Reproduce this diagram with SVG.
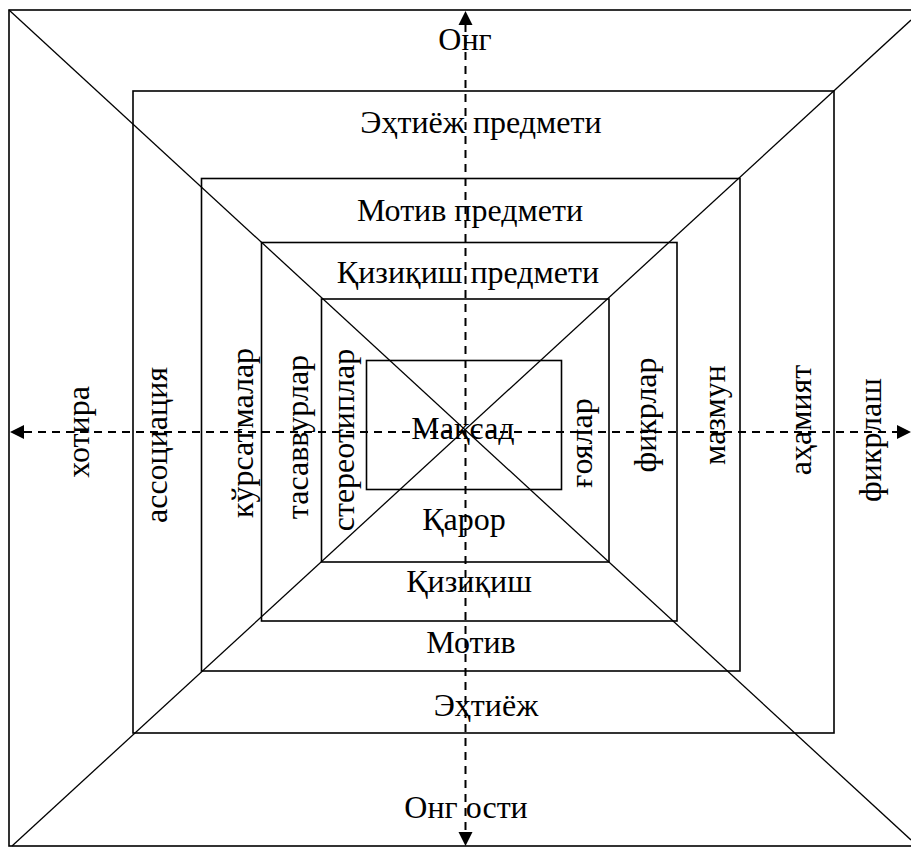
<svg xmlns="http://www.w3.org/2000/svg" width="911" height="848" viewBox="0 0 911 848">
<defs>
<style>
.r{fill:none;stroke:#000;stroke-width:1.6}
.d{stroke:#000;stroke-width:1.3}
.ax{stroke:#000;stroke-width:2;stroke-dasharray:8 6}
text{font-family:"Liberation Serif","Times New Roman",serif;font-size:32px;fill:#000;text-anchor:middle}
</style>
</defs>
<rect width="911" height="848" fill="#fff"/>
<g id="rects">
<rect id="r1" class="r" x="9" y="10" width="910" height="836"/>
<rect id="r2" class="r" x="133" y="91" width="701" height="642"/>
<rect id="r3" class="r" x="201.5" y="178.5" width="538.5" height="492.5"/>
<rect id="r4" class="r" x="261.5" y="242.5" width="415.5" height="378.5"/>
<rect id="r5" class="r" x="321.5" y="299" width="287.5" height="263"/>
<rect id="r6" class="r" x="366.5" y="360.5" width="195" height="129"/>
</g>
<g id="connectors">
<line class="d" x1="9" y1="10" x2="911" y2="840"/>
<line class="d" x1="12" y1="846" x2="911" y2="20"/>
<line class="ax" x1="465.5" y1="24" x2="465.5" y2="833"/>
<polygon points="465.5,11 458.5,25 472.5,25"/>
<polygon points="465.5,846 458.5,832 472.5,832"/>
<line class="ax" x1="24" y1="432" x2="898" y2="432"/>
<polygon points="10,432 24,425 24,439"/>
<polygon points="911,432 897,425 897,439"/>
</g>
<g id="labels">
<text x="465" y="50">Онг</text>
<text x="466" y="818">Онг ости</text>
<text x="481" y="133">Эҳтиёж предмети</text>
<text x="470" y="221">Мотив предмети</text>
<text x="468" y="283">Қизиқиш предмети</text>
<text x="463" y="439">Мақсад</text>
<text x="464" y="530">Қарор</text>
<text x="469" y="592">Қизиқиш</text>
<text x="471" y="653">Мотив</text>
<text x="486" y="716">Эҳтиёж</text>
<text transform="translate(89,432) rotate(-90)">хотира</text>
<text transform="translate(167,445) rotate(-90)">ассоциация</text>
<text transform="translate(253,433) rotate(-90)">кўрсатмалар</text>
<text transform="translate(308,437) rotate(-90)">тасаввурлар</text>
<text transform="translate(354,440) rotate(-90)">стереотиплар</text>
<text transform="translate(592,443) rotate(-90)">ғоялар</text>
<text transform="translate(656,415) rotate(-90)">фикрлар</text>
<text transform="translate(725,415) rotate(-90)">мазмун</text>
<text transform="translate(811,420) rotate(-90)">аҳамият</text>
<text transform="translate(881,440) rotate(-90)">фикрлаш</text>
</g>
</svg>
